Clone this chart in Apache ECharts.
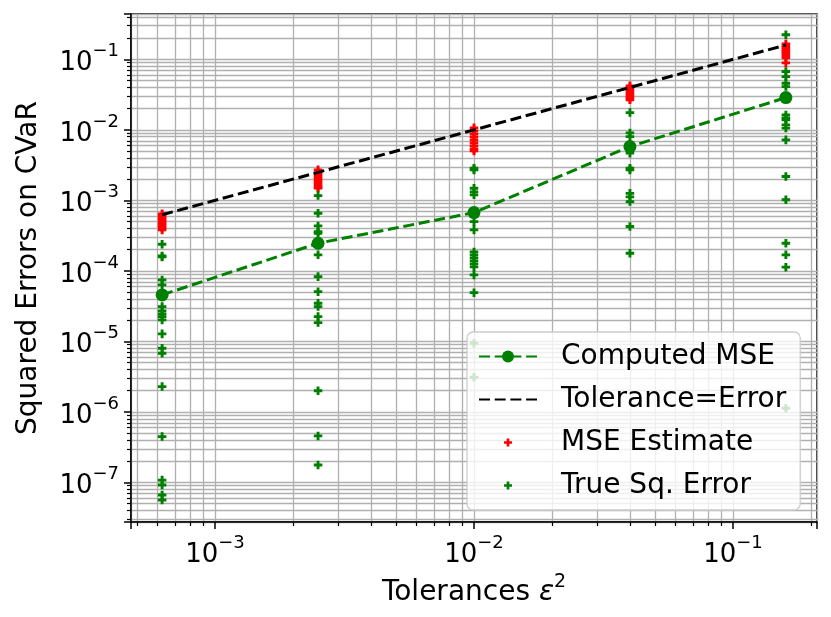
<!DOCTYPE html>
<html>
<head>
<meta charset="utf-8">
<title>Squared Errors on CVaR</title>
<script src="https://cdn.jsdelivr.net/npm/echarts@6/dist/echarts.min.js"></script>
</head>
<body style="margin:0;background:#fff">
<div id="main" style="width:831px;height:617px;"></div>
<script type="text/javascript">
// tolerances eps^2 (x positions of every column)
var tolerances = [0.000625, 0.0025, 0.01, 0.04, 0.16];

// mean of the true squared errors, one per tolerance
var computedMse = [4.57e-5, 2.47e-4, 6.71e-4, 5.80e-3, 2.87e-2];

// MSE estimates of each run, one list per tolerance
var mseEstimate = [
  [6.44e-4, 6.03e-4, 5.65e-4, 5.29e-4, 4.95e-4, 4.64e-4, 4.35e-4, 4.07e-4, 3.82e-4],
  [2.71e-3, 2.46e-3, 2.30e-3, 2.16e-3, 2.02e-3, 1.89e-3, 1.77e-3, 1.66e-3, 1.55e-3, 1.50e-3],
  [1.07e-2, 9.68e-3, 8.77e-3, 7.96e-3, 7.22e-3, 6.54e-3, 5.93e-3, 5.38e-3, 5.04e-3],
  [4.21e-2, 3.94e-2, 3.69e-2, 3.46e-2, 3.24e-2, 3.03e-2, 2.84e-2, 2.67e-2],
  [1.66e-1, 1.55e-1, 1.46e-1, 1.36e-1, 1.28e-1, 1.20e-1, 1.12e-1, 1.05e-1, 8.92e-2]
];

// true squared errors of each run, one list per tolerance
var trueSqError = [
  [2.39e-4, 1.63e-4, 1.58e-4, 7.45e-5, 6.33e-5, 3.12e-5, 2.71e-5, 2.45e-5, 2.25e-5, 2.02e-5,
   1.28e-5, 8.0e-6, 6.8e-6, 2.29e-6, 4.47e-7, 1.08e-7, 9.2e-8, 6.65e-8, 5.65e-8],
  [1.17e-3, 6.58e-4, 4.35e-4, 3.61e-4, 3.42e-4, 2.34e-4, 1.69e-4, 8.3e-5, 5.08e-5, 3.48e-5,
   3.12e-5, 2.25e-5, 1.85e-5, 2.0e-6, 4.57e-7, 1.77e-7],
  [2.86e-3, 2.71e-3, 1.49e-3, 1.32e-3, 1.20e-3, 6.44e-4, 5.0e-4, 3.82e-4, 1.86e-4, 1.69e-4,
   1.53e-4, 1.39e-4, 1.26e-4, 1.14e-4, 8.78e-5, 4.92e-5, 9.42e-6, 3.10e-6],
  [1.76e-2, 9.06e-3, 8.03e-3, 5.56e-3, 4.68e-3, 2.86e-3, 2.71e-3, 1.26e-3, 1.12e-3, 9.62e-4,
   4.27e-4, 1.78e-4],
  [2.23e-1, 6.72e-2, 5.70e-2, 4.59e-2, 4.11e-2, 1.63e-2, 1.48e-2, 1.39e-2, 1.18e-2, 1.06e-2,
   7.22e-3, 2.18e-3, 1.02e-3, 2.47e-4, 1.69e-4, 1.13e-4, 1.13e-6]
];

var seriesNames = ['Computed MSE', 'Tolerance=Error', 'MSE Estimate', 'True Sq. Error'];

function pairs(xs, ys) {
  return xs.map(function (x, i) { return [x, ys[i]]; });
}
function columns(groups) {
  var out = [];
  groups.forEach(function (g, i) {
    g.forEach(function (v) { out.push([tolerances[i], v]); });
  });
  return out;
}
function logLabel(v) {
  var p = Math.log10(v), r = Math.round(p);
  if (Math.abs(p - r) > 1e-6) return '';
  return '{b|10}{s|' + (r < 0 ? '\u2212' + (-r) : r) + '}';
}

// filled plus, padded so the legend draws it small
var plus = 'path://M0,0L0,0M20,20L20,20M8.2,4.67H11.8V8.2H15.33V11.8H11.8V15.33H8.2V11.8H4.67V8.2H8.2Z';
var font = 'DejaVu Sans';
var tickRich = {
  b: { fontSize: 26, lineHeight: 34, fontFamily: font, color: '#000', verticalAlign: 'bottom' },
  s: { fontSize: 18, lineHeight: 18, fontFamily: font, color: '#000', verticalAlign: 'top' }
};
var gridLine = { show: true, lineStyle: { color: '#b0b0b0', width: 1.3 } };

var myChart = echarts.init(document.getElementById('main'));

var option = {
  animation: false,
  backgroundColor: '#fff',
  textStyle: { fontFamily: font },
  grid: {
    left: 131, right: 14, top: 14, bottom: 95,
    show: true, borderColor: '#000', borderWidth: 1.5, backgroundColor: 'transparent'
  },
  legend: {
    orient: 'vertical',
    left: 467, top: 332,
    data: [
      { name: 'Computed MSE' },
      { name: 'Tolerance=Error', itemStyle: { opacity: 0 } },
      { name: 'MSE Estimate' },
      { name: 'True Sq. Error' }
    ],
    itemWidth: 58, itemHeight: 15, itemGap: 12,
    symbolKeepAspect: true,
    padding: [9, 14, 9, 11],
    backgroundColor: 'rgba(255,255,255,0.8)',
    borderColor: '#cccccc', borderWidth: 1.3, borderRadius: 6,
    textStyle: { fontSize: 28, lineHeight: 31, color: '#000', fontFamily: font, padding: [0, 0, 0, 19] }
  },
  xAxis: {
    type: 'log', logBase: 10,
    min: 4.74e-4, max: 0.211,
    name: '{a|Tolerances }{e|\u03b5}{s|2}',
    nameLocation: 'middle', nameGap: 46,
    nameTextStyle: {
      rich: {
        a: { fontSize: 28, lineHeight: 34, fontFamily: font, color: '#000', verticalAlign: 'bottom' },
        e: { fontSize: 28, lineHeight: 34, fontFamily: font, fontStyle: 'italic', color: '#000', verticalAlign: 'bottom' },
        s: { fontSize: 19, lineHeight: 19, fontFamily: font, color: '#000', verticalAlign: 'top' }
      }
    },
    axisLine: { show: true, lineStyle: { color: '#000', width: 1.5 } },
    axisTick: { show: true, inside: false, length: 7, lineStyle: { color: '#000', width: 1.5 } },
    minorTick: { show: true, splitNumber: 9, length: 4, lineStyle: { color: '#000', width: 1.2 } },
    axisLabel: { margin: 12, formatter: logLabel, rich: tickRich, showMinLabel: true, showMaxLabel: true },
    splitLine: gridLine,
    minorSplitLine: gridLine
  },
  yAxis: {
    type: 'log', logBase: 10,
    min: 2.75e-8, max: 0.44,
    name: 'Squared Errors on CVaR',
    nameLocation: 'middle', nameRotate: 90, nameGap: 88,
    nameTextStyle: { fontSize: 28, fontFamily: font, color: '#000' },
    axisLine: { show: true, lineStyle: { color: '#000', width: 1.5 } },
    axisTick: { show: true, inside: false, length: 7, lineStyle: { color: '#000', width: 1.5 } },
    minorTick: { show: true, splitNumber: 9, length: 4, lineStyle: { color: '#000', width: 1.2 } },
    axisLabel: { margin: 12, formatter: logLabel, rich: tickRich },
    splitLine: gridLine,
    minorSplitLine: gridLine
  },
  series: [
    {
      name: seriesNames[0], type: 'line', z: 5,
      data: pairs(tolerances, computedMse),
      symbol: 'circle', symbolSize: 13,
      itemStyle: { color: '#008000' },
      lineStyle: { color: '#008000', width: 3, type: [11, 4.7] }
    },
    {
      name: seriesNames[1], type: 'line', z: 4,
      data: pairs(tolerances, tolerances),
      showSymbol: false,
      itemStyle: { color: 'rgba(0,0,0,0)' },
      lineStyle: { color: '#000', width: 3, type: [11, 4.7] }
    },
    {
      name: seriesNames[2], type: 'scatter', z: 3,
      data: columns(mseEstimate),
      symbol: plus, symbolSize: 16, symbolKeepAspect: true,
      itemStyle: { color: '#ff0000', opacity: 1 }
    },
    {
      name: seriesNames[3], type: 'scatter', z: 3,
      data: columns(trueSqError),
      symbol: plus, symbolSize: 16, symbolKeepAspect: true,
      itemStyle: { color: '#008000', opacity: 1 }
    }
  ]
};

myChart.setOption(option);
</script>
</body>
</html>
